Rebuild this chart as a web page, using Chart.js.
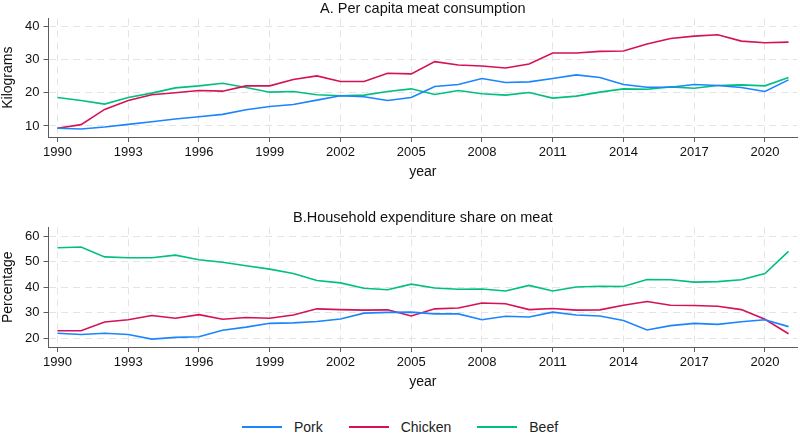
<!DOCTYPE html>
<html>
<head>
<meta charset="utf-8">
<script src="https://cdn.jsdelivr.net/npm/chart.js@4.4.0/dist/chart.umd.min.js"></script>
<style>
  body { margin: 0; background: #fff; font-family: "Liberation Sans", Arial, sans-serif; }
  #wrap { position: relative; width: 800px; height: 437px; overflow: hidden; }
  canvas { position: absolute; left: 0; }
  #chartA { top: 0; }
  #chartB { top: 209px; }
  .legend { position: absolute; left: 0; width: 800px; top: 419px; display: flex; justify-content: center; gap: 26px; font-size: 14px; color: #222; }
  .legend span { display: flex; align-items: center; gap: 12px; }
  .legend i { display: inline-block; width: 40px; height: 2px; }
</style>
</head>
<body>
<div id="wrap">
  <canvas id="chartA" width="800" height="190"></canvas>
  <canvas id="chartB" width="800" height="190"></canvas>
  <div class="legend">
    <span><i style="background:#1a85ff"></i>Pork</span>
    <span><i style="background:#d41159"></i>Chicken</span>
    <span><i style="background:#00bf7f"></i>Beef</span>
  </div>
</div>
<script>
const years = [1990, 1991, 1992, 1993, 1994, 1995, 1996, 1997, 1998, 1999, 2000,
  2001, 2002, 2003, 2004, 2005, 2006, 2007, 2008, 2009, 2010,
  2011, 2012, 2013, 2014, 2015, 2016, 2017, 2018, 2019, 2020, 2021];
const yearTicks = [1990, 1993, 1996, 1999, 2002, 2005, 2008, 2011, 2014, 2017, 2020];

// A. per capita consumption, kg
const porkKg = [9.3, 9.1, 9.7, 10.5, 11.3, 12.1, 12.8, 13.5, 14.9, 15.9, 16.5,
  17.8, 19.1, 18.8, 17.7, 18.6, 21.9, 22.5, 24.3, 23.1, 23.3,
  24.3, 25.4, 24.6, 22.5, 21.7, 21.7, 22.5, 22.2, 21.6, 20.4, 23.9];
const chickenKg = [9.3, 10.4, 15.0, 17.7, 19.4, 20.0, 20.7, 20.5, 22.1, 22.1, 24.0,
  25.1, 23.4, 23.4, 25.9, 25.7, 29.4, 28.4, 28.1, 27.5, 28.7,
  32.0, 32.0, 32.5, 32.6, 34.7, 36.4, 37.1, 37.5, 35.6, 35.1, 35.3];
const beefKg = [18.6, 17.7, 16.6, 18.6, 19.9, 21.5, 22.1, 22.9, 21.6, 20.2, 20.4,
  19.4, 19.1, 19.3, 20.4, 21.2, 19.5, 20.7, 19.7, 19.3, 20.1,
  18.4, 19.0, 20.2, 21.2, 21.1, 21.8, 21.4, 22.2, 22.4, 22.1, 24.6];
const kgTicks = [10, 20, 30, 40];

// B. household expenditure share, %
const porkPct = [21.9, 21.4, 21.9, 21.4, 19.6, 20.3, 20.5, 23.1, 24.3, 25.8, 26.0,
  26.5, 27.5, 29.8, 30.1, 30.2, 29.5, 29.5, 27.2, 28.6, 28.3,
  30.2, 29.1, 28.7, 26.9, 23.2, 24.9, 25.8, 25.4, 26.4, 27.2, 24.5];
const chickenPct = [22.9, 22.9, 26.3, 27.2, 28.9, 27.8, 29.2, 27.4, 28.1, 27.8, 29.1,
  31.5, 31.2, 31.0, 31.1, 28.7, 31.5, 31.8, 33.8, 33.5, 31.2,
  31.6, 31.0, 31.1, 32.9, 34.4, 32.9, 32.8, 32.5, 31.2, 27.4, 21.7];
const beefPct = [55.5, 55.8, 51.9, 51.6, 51.6, 52.6, 50.8, 49.8, 48.4, 47.1, 45.4,
  42.6, 41.7, 39.6, 39.0, 41.2, 39.7, 39.2, 39.3, 38.5, 40.7,
  38.5, 40.1, 40.4, 40.3, 43.0, 42.9, 42.0, 42.2, 42.9, 45.4, 54.1];
const pctTicks = [20, 30, 40, 50, 60];

const seriesNames = ['Pork', 'Chicken', 'Beef'];
const seriesColors = ['#1a85ff', '#d41159', '#00bf7f'];

const fontFamily = '"Liberation Sans", Arial, sans-serif';
const gridColor = '#e4e4e4';
const axisColor = '#5c5c5c';

function makeChart(canvasId, title, yTitle, values, yTicks, yMin, yMax, padBottom) {
  return new Chart(document.getElementById(canvasId), {
    type: 'line',
    data: {
      labels: years,
      datasets: values.map((v, i) => ({
        label: seriesNames[i],
        data: v,
        borderColor: seriesColors[i],
        borderWidth: 1.6,
        pointRadius: 0,
        tension: 0,
        fill: false,
      })),
    },
    options: {
      responsive: false,
      animation: false,
      devicePixelRatio: 1,
      layout: { padding: { left: 0, right: 3, top: 0, bottom: padBottom } },
      plugins: {
        legend: { display: false },
        tooltip: { enabled: false },
        title: {
          display: true,
          text: title,
          fullSize: false,
          color: '#111',
          font: { family: fontFamily, size: 14.5, weight: 'normal' },
          padding: { top: 0, bottom: 1 },
        },
      },
      scales: {
        x: {
          type: 'linear',
          min: 1989.62,
          max: 2021.36,
          afterBuildTicks: (s) => { s.ticks = yearTicks.map((v) => ({ value: v })); },
          ticks: {
            color: '#111',
            padding: 3,
            maxRotation: 0,
            autoSkip: false,
            font: { family: fontFamily, size: 13 },
            callback: (v) => String(v),
          },
          grid: { color: gridColor, tickColor: axisColor, tickLength: 5, tickBorderDash: [] },
          border: { color: axisColor, width: 1, dash: [7, 5] },
          title: {
            display: true,
            text: 'year',
            color: '#111',
            font: { family: fontFamily, size: 14 },
            padding: { top: 0, bottom: 0 },
          },
        },
        y: {
          min: yMin,
          max: yMax,
          afterBuildTicks: (s) => { s.ticks = yTicks.map((v) => ({ value: v })); },
          afterFit: (s) => { s.width = 48.5; },
          ticks: {
            color: '#111',
            padding: 4,
            font: { family: fontFamily, size: 13 },
          },
          grid: { color: gridColor, tickColor: axisColor, tickLength: 5, tickBorderDash: [] },
          border: { color: axisColor, width: 1, dash: [7, 5] },
          title: {
            display: true,
            text: yTitle,
            color: '#111',
            font: { family: fontFamily, size: 14 },
            padding: { top: 0, bottom: 0 },
          },
        },
      },
    },
  });
}

makeChart('chartA', 'A. Per capita meat consumption', 'Kilograms',
  [porkKg, chickenKg, beefKg], kgTicks, 6.68, 42.44, 9.6);
makeChart('chartB', 'B.Household expenditure share on meat', 'Percentage',
  [porkPct, chickenPct, beefPct], pctTicks, 16.5, 63.5, 8.6);
</script>
</body>
</html>
